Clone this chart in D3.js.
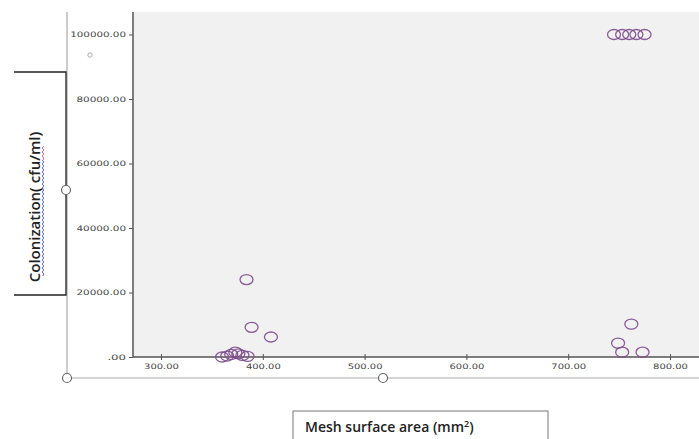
<!DOCTYPE html>
<html>
<head>
<meta charset="utf-8">
<script src="https://cdn.jsdelivr.net/npm/d3@7"></script>
<style>
  body { margin: 0; background: #fff; }
  svg { display: block; }
</style>
</head>
<body>
<div id="scatter"></div>
<script>
// data
var meshArea = [384, 389, 408, 360, 365, 369, 373, 376, 380, 385,
                745, 753, 760, 767, 775, 762, 749, 753, 773];
var colonization = [24000, 9200, 6200, 0, 300, 800, 1500, 1000, 500, 200,
                    100000, 100000, 100000, 100000, 100000, 10200, 4300, 1500, 1500];
var xTicks = [300, 400, 500, 600, 700, 800];
var yTicks = [0, 20000, 40000, 60000, 80000, 100000];

var svgWidth = 699;
var svgHeight = 439;

// plot frame
var plot = { left: 133, top: 12, right: 699, bottom: 357 };

var svg = d3.select("#scatter")
  .append("svg")
  .attr("width", svgWidth)
  .attr("height", svgHeight);

var xScale = d3.scaleLinear().domain([300, 800]).range([161, 670]);
var yScale = d3.scaleLinear().domain([0, 100000]).range([357, 34.5]);

// plot background
svg.append("rect")
  .attr("x", plot.left)
  .attr("y", plot.top)
  .attr("width", plot.right - plot.left)
  .attr("height", plot.bottom - plot.top)
  .attr("fill", "#f1f1f1");

// chart editor frame lines
svg.append("line")
  .attr("x1", 67).attr("y1", 12).attr("x2", 67).attr("y2", 378)
  .attr("stroke", "#aaa").attr("stroke-width", 1.2);
svg.append("line")
  .attr("x1", 67).attr("y1", 378).attr("x2", 699).attr("y2", 378)
  .attr("stroke", "#aaa").attr("stroke-width", 1.2);

// y label box
svg.append("path")
  .attr("d", "M14,72 H66 V295 H14")
  .attr("fill", "#fff")
  .attr("stroke", "#222")
  .attr("stroke-width", 1.3);

// axes
var fmt = d3.format(".2f");
var bottomAxis = d3.axisBottom(xScale)
  .tickValues(xTicks)
  .tickSize(4)
  .tickFormat(fmt);
var leftAxis = d3.axisLeft(yScale)
  .tickValues(yTicks)
  .tickSize(4)
  .tickFormat(function(d) { return d === 0 ? ".00" : fmt(d); });

var xAxis = svg.append("g")
  .attr("transform", "translate(0," + plot.bottom + ")")
  .call(bottomAxis);
xAxis.select(".domain").remove();
xAxis.selectAll(".tick line")
  .attr("y1", -3).attr("y2", 3)
  .attr("stroke", "#555");
xAxis.selectAll("text")
  .attr("y", 7)
  .attr("font-family", "DejaVu Sans, sans-serif")
  .attr("font-size", 7.5)
  .attr("fill", "#444")
  .attr("textLength", d => fmt(d).length * 5.8)
  .attr("lengthAdjust", "spacingAndGlyphs");

var yAxis = svg.append("g")
  .attr("transform", "translate(" + plot.left + ",0)")
  .call(leftAxis);
yAxis.select(".domain").remove();
yAxis.selectAll(".tick line").attr("stroke", "#555");
yAxis.selectAll("text")
  .attr("x", -7)
  .attr("font-family", "DejaVu Sans, sans-serif")
  .attr("font-size", 7.5)
  .attr("fill", "#444")
  .attr("textLength", d => (d === 0 ? 3 : fmt(d).length) * 6.2)
  .attr("lengthAdjust", "spacingAndGlyphs");

// axis lines
svg.append("line")
  .attr("x1", plot.left).attr("y1", plot.top).attr("x2", plot.left).attr("y2", plot.bottom)
  .attr("stroke", "#555").attr("stroke-width", 1.5);
svg.append("line")
  .attr("x1", plot.left).attr("y1", plot.bottom).attr("x2", plot.right).attr("y2", plot.bottom)
  .attr("stroke", "#555").attr("stroke-width", 1.5);

// points
var points = meshArea.map(function(d, i) { return { x: d, y: colonization[i] }; });
svg.append("g").selectAll("ellipse")
  .data(points)
  .enter()
  .append("ellipse")
  .attr("cx", d => xScale(d.x))
  .attr("cy", d => yScale(d.y))
  .attr("rx", 6.5)
  .attr("ry", 5)
  .attr("fill", "none")
  .attr("stroke", "#7d4d8d")
  .attr("stroke-width", 1.3)
  .attr("opacity", 0.9);

// little legend marker
svg.append("circle")
  .attr("cx", 90).attr("cy", 55).attr("r", 2.2)
  .attr("fill", "none").attr("stroke", "#999").attr("stroke-width", 0.8);

// y axis title
svg.append("text")
  .attr("transform", "translate(40,207) rotate(-90)")
  .attr("text-anchor", "middle")
  .attr("font-family", "'Open Sans', sans-serif")
  .attr("font-weight", 600)
  .attr("font-size", 15)
  .attr("fill", "#222")
  .text("Colonization( cfu/ml)");

// spell check squiggles
function squiggle(x, y0, y1, color) {
  var p = "M" + x + "," + y0;
  var k = 0;
  for (var y = y0; y > y1; y -= 2) {
    p += " L" + (x + (k % 2 ? -0.8 : 0.8)) + "," + (y - 2);
    k++;
  }
  svg.append("path").attr("d", p).attr("fill", "none")
    .attr("stroke", color).attr("stroke-width", 0.8);
}
squiggle(43, 276, 160, "#3a3ad0");
squiggle(43, 160, 146, "#d03a5a");

// handles
[[66, 190], [67, 378], [383, 378]].forEach(function(h) {
  svg.append("circle")
    .attr("cx", h[0]).attr("cy", h[1]).attr("r", 4.5)
    .attr("fill", "#fff").attr("stroke", "#666").attr("stroke-width", 1.2);
});

// x axis title box
svg.append("rect")
  .attr("x", 293).attr("y", 411)
  .attr("width", 255).attr("height", 40)
  .attr("fill", "#fff")
  .attr("stroke", "#777").attr("stroke-width", 1);

var xt = svg.append("text")
  .attr("x", 305).attr("y", 432)
  .attr("font-family", "'Open Sans', sans-serif")
  .attr("font-weight", 600)
  .attr("font-size", 14)
  .attr("fill", "#222");
xt.append("tspan").text("Mesh surface area (mm");
xt.append("tspan").attr("dy", -5).attr("font-size", 9).text("2");
xt.append("tspan").attr("dy", 5).text(")");
</script>
</body>
</html>
